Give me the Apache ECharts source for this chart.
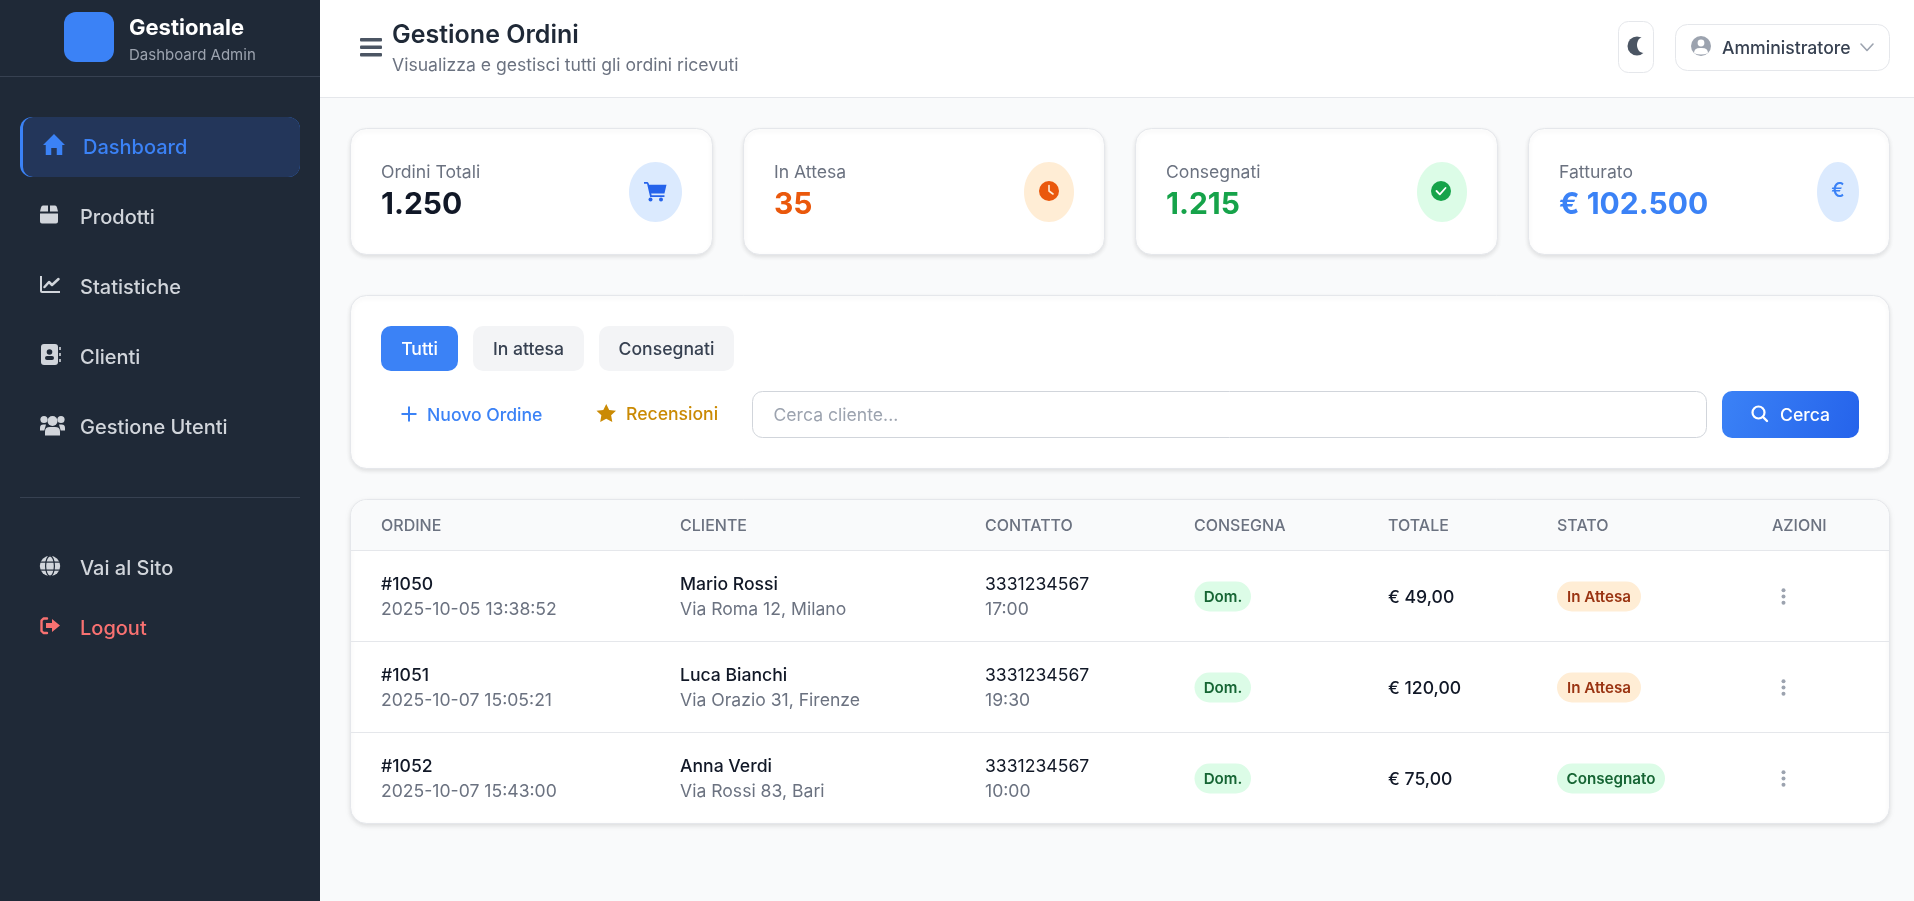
<!DOCTYPE html>
<html lang="it">
<head>
<meta charset="utf-8">
<title>Gestione Ordini</title>
<script src="https://cdn.jsdelivr.net/npm/echarts@6/dist/echarts.min.js"></script>
<style>
  html, body { margin: 0; padding: 0; background: #f9fafb; }
  #main { width: 1914px; height: 901px; }
</style>
</head>
<body>
<div id="main"></div>
<script>
// dati
const brandTitle = 'Gestionale'
const brandSubtitle = 'Dashboard Admin'
const navLabels = ['Dashboard', 'Prodotti', 'Statistiche', 'Clienti', 'Gestione Utenti']
const navFooterLabels = ['Vai al Sito', 'Logout']
const pageTitle = 'Gestione Ordini'
const pageSubtitle = 'Visualizza e gestisci tutti gli ordini ricevuti'
const userName = 'Amministratore'
const statLabels = ['Ordini Totali', 'In Attesa', 'Consegnati', 'Fatturato']
const statValues = ['1.250', '35', '1.215', '€ 102.500']
const filterTabs = ['Tutti', 'In attesa', 'Consegnati']
const columnLabels = ['ORDINE', 'CLIENTE', 'CONTATTO', 'CONSEGNA', 'TOTALE', 'STATO', 'AZIONI']
const orderIds = ['#1050', '#1051', '#1052']
const orderDates = ['2025-10-05 13:38:52', '2025-10-07 15:05:21', '2025-10-07 15:43:00']
const customerNames = ['Mario Rossi', 'Luca Bianchi', 'Anna Verdi']
const customerAddresses = ['Via Roma 12, Milano', 'Via Orazio 31, Firenze', 'Via Rossi 83, Bari']
const contactPhones = ['3331234567', '3331234567', '3331234567']
const contactTimes = ['17:00', '19:30', '10:00']
const deliveryTypes = ['Dom.', 'Dom.', 'Dom.']
const orderTotals = ['€ 49,00', '€ 120,00', '€ 75,00']
const orderStates = ['In Attesa', 'In Attesa', 'Consegnato']

// layout
const FONT = 'Inter, "Noto Sans", sans-serif'
const SIDEBAR = '#1f2937', LIGHT = '#d1d5db', BLUE = '#3b82f6', LINE = '#e5e7eb', GREY = '#6b7280'
const TEXT_M = 17.6
const els = []
let iconCount = 0

function rect(x, y, w, h, r, fill, extra) {
  els.push({ type: 'rect', silent: true, shape: { x, y, width: w, height: h, r }, style: Object.assign({ fill }, extra) })
}
function circle(cx, cy, r, fill) {
  els.push({ type: 'circle', silent: true, shape: { cx, cy, r }, style: { fill } })
}
function ellipse(cx, cy, rx, ry, fill, extra) {
  els.push({ type: 'ellipse', silent: true, shape: { cx, cy, rx, ry }, style: Object.assign({ fill }, extra) })
}
function line(points, stroke, lineWidth) {
  els.push({ type: 'polyline', silent: true, shape: { points }, style: { fill: null, stroke, lineWidth, lineCap: 'round', lineJoin: 'round' } })
}
// il componente graphic non ha il tipo path: registro ogni icona come forma
function icon(d, x, y, w, h, fill) {
  const name = 'icon' + (iconCount++)
  const Clz = echarts.graphic.extendPath(d, {})
  echarts.graphic.registerShape(name, Clz)
  const box = new Clz().getBoundingRect()
  const sx = w / box.width, sy = h / box.height
  els.push({ type: name, silent: true, x: x - box.x * sx, y: y - box.y * sy, scaleX: sx, scaleY: sy, style: { fill } })
}
function txt(text, x, y, size, weight, fill, align) {
  els.push({
    type: 'text', silent: true,
    style: { text, x, y, fontFamily: FONT, fontSize: size, fontWeight: weight, fill, align: align || 'left', verticalAlign: 'middle' }
  })
}
function card(x, y, w, h) {
  rect(x - 0.5, y - 0.5, w + 1, h + 1, 16, '#ffffff', {
    stroke: LINE, lineWidth: 1, shadowBlur: 4, shadowOffsetY: 2, shadowColor: 'rgba(0,0,0,0.10)'
  })
}

// sidebar
function drawSidebar() {
  rect(0, 0, 320, 901, 0, SIDEBAR)
  rect(64, 12, 50, 50, 12, BLUE)
  txt(brandTitle, 129, 28, 22, 700, '#ffffff')
  txt(brandSubtitle, 129, 55, 15, 400, '#9ca3af')
  rect(0, 76, 320, 1, 0, '#374151')

  rect(20, 117, 280, 60, 12, BLUE)
  rect(23, 117, 277, 60, [10, 12, 12, 10], '#23365a')
  icon('M12 1 L24 12 H21 V22 H15 V15 H9 V22 H3 V12 H0 Z', 43, 134, 22, 21, BLUE)

  const navY = [148, 218, 288, 358, 428]
  navLabels.forEach(function (label, i) {
    txt(label, i === 0 ? 83 : 80, navY[i], 20, 500, i === 0 ? BLUE : LIGHT)
  })

  // prodotti
  icon('M3 0 H8 V6 H0 L1 2 Q1.5 0 3 0 Z M10 0 H15 Q16.5 0 17 2 L18 6 H10 Z M0 8 H18 V16 Q18 18 16 18 H2 Q0 18 0 16 Z', 40, 205.5, 18, 18, LIGHT)
  // statistiche
  icon('M0 0 H2 V16 H20 V18 H2 Q0 18 0 16 Z', 40, 276, 20, 17, LIGHT)
  line([[44.5, 287], [49, 282], [52, 285], [58.5, 279]], LIGHT, 2.5)
  // clienti
  rect(41, 344, 17, 21, 3, LIGHT)
  circle(49.5, 352, 2.8, SIDEBAR)
  rect(45, 356, 9, 4, 2, SIDEBAR)
  rect(59.2, 347, 1.6, 3, 0, LIGHT)
  rect(59.2, 353, 1.6, 3, 0, LIGHT)
  rect(59.2, 359, 1.6, 3, 0, LIGHT)
  // utenti
  circle(52.5, 421, 5, LIGHT)
  circle(44, 419.5, 3.6, LIGHT)
  circle(61, 419.5, 3.6, LIGHT)
  icon('M0 10 V5 Q0 0 5 0 H10 Q15 0 15 5 V10 Z', 45, 427, 15, 8.5, LIGHT)
  icon('M0 7 V4 Q0 0 4 0 H7 L5 7 Z', 40, 424.5, 6, 6, LIGHT)
  icon('M7 7 V4 Q7 0 3 0 H0 L2 7 Z', 59, 424.5, 6, 6, LIGHT)

  rect(20, 497, 280, 1, 0, '#374151')

  // vai al sito
  txt(navFooterLabels[0], 80, 569, 20, 500, LIGHT)
  circle(50, 566, 10.2, LIGHT)
  ellipse(50, 566, 4.4, 10.2, null, { stroke: SIDEBAR, lineWidth: 1.2 })
  rect(40, 561.5, 20, 1.2, 0, SIDEBAR)
  rect(40, 569.5, 20, 1.2, 0, SIDEBAR)

  // logout
  txt(navFooterLabels[1], 80, 629, 20, 500, '#f87171')
  line([[47, 618.5], [43.5, 618.5], [41.5, 620.5], [41.5, 631], [43.5, 633], [47, 633]], '#f87171', 2.4)
  icon('M0 4 H6 V0 L14 6.5 L6 13 V9 H0 Z', 46, 619, 14, 13, '#f87171')
}

// intestazione
function drawHeader() {
  rect(320, 0, 1594, 97, 0, '#ffffff')
  rect(320, 97, 1594, 1, 0, LINE)
  rect(360, 38, 22, 3.5, 1, '#4b5563')
  rect(360, 45.5, 22, 3.5, 1, '#4b5563')
  rect(360, 53, 22, 3.5, 1, '#4b5563')
  txt(pageTitle, 392, 35, 25, 600, '#1f2937')
  txt(pageSubtitle, 392, 66, TEXT_M, 400, GREY)

  // tema
  rect(1618.5, 21.5, 35, 51, 10, '#ffffff', { stroke: LINE, lineWidth: 1 })
  circle(1637, 46, 9.5, '#4b5563')
  ellipse(1643.5, 45, 6.5, 8, '#ffffff')

  // utente
  rect(1675.5, 24.5, 214, 46, 12, '#ffffff', { stroke: LINE, lineWidth: 1 })
  circle(1701, 46, 10, '#9ca3af')
  circle(1701, 43, 3.4, '#ffffff')
  icon('M0 6 Q0 0 6 0 H8 Q14 0 14 6 Q7 9 0 6 Z', 1694, 48, 14, 6.5, '#ffffff')
  txt(userName, 1722, 48.5, TEXT_M, 500, '#374151')
  line([[1861, 44], [1867, 50.5], [1873, 44]], '#9ca3af', 1.6)
}

// card statistiche
function drawStats() {
  const cardX = [351, 744, 1136, 1529]
  const cardW = [361, 360, 361, 360]
  const colors = ['#111827', '#ea580c', '#16a34a', BLUE]
  const pillX = [629, 1024, 1417, 1817]
  const pillW = [53, 50, 50, 42]
  const pillFill = ['#dbeafe', '#ffedd5', '#dcfce7', '#dbeafe']
  statLabels.forEach(function (label, i) {
    card(cardX[i], 129, cardW[i], 125)
    txt(label, cardX[i] + 30, 173, TEXT_M, 400, GREY)
    txt(statValues[i], cardX[i] + 30, 205, 30, 700, colors[i])
    ellipse(pillX[i] + pillW[i] / 2, 192, pillW[i] / 2, 30, pillFill[i])
  })
  // carrello
  icon('M0 0 H3 Q4 0 4.5 1.5 L5 3 H22 L20 13 H7 L7.5 15 H20 V17 H6 L3 2 H0 Z', 644, 182, 22.5, 15, '#2563eb')
  circle(650.5, 199.5, 2, '#2563eb')
  circle(661, 199.5, 2, '#2563eb')
  // orologio
  circle(1049, 191, 10, '#ea580c')
  line([[1049, 185.5], [1049, 191], [1053, 194]], '#ffedd5', 1.6)
  // spunta
  circle(1441, 191, 10, '#16a34a')
  line([[1436.5, 191], [1439.8, 194.3], [1445.5, 188]], '#ffffff', 1.8)
  // euro
  txt('€', 1838, 191, 20, 500, BLUE, 'center')
}

// filtri e ricerca
function drawFilters() {
  card(351, 296, 1538, 172)
  const tabX = [381, 473, 599]
  const tabW = [77, 111, 135]
  filterTabs.forEach(function (label, i) {
    rect(tabX[i], 326, tabW[i], 45, 10, i === 0 ? BLUE : '#f3f4f6')
    txt(label, tabX[i] + tabW[i] / 2, 349.5, TEXT_M, 500, i === 0 ? '#ffffff' : '#374151', 'center')
  })
  // nuovo ordine
  rect(401.5, 413, 15, 2, 0, BLUE)
  rect(408, 406.5, 2, 15, 0, BLUE)
  txt('Nuovo Ordine', 427, 416, TEXT_M, 500, BLUE)
  // recensioni
  icon('M50 0 L65 33 L100 38 L75 62 L81 100 L50 82 L19 100 L25 62 L0 38 L35 33 Z', 596.5, 404, 19.5, 18, '#ca8a04')
  txt('Recensioni', 626, 415, TEXT_M, 500, '#ca8a04')
  // ricerca
  rect(752.5, 391.5, 954, 46, 10, '#ffffff', { stroke: LIGHT, lineWidth: 1 })
  txt('Cerca cliente...', 773.5, 416, TEXT_M, 400, '#9ca3af')
  rect(1722, 391, 137, 47, 10, {
    type: 'linear', x: 0, y: 0, x2: 1, y2: 1,
    colorStops: [{ offset: 0, color: BLUE }, { offset: 1, color: '#2563eb' }]
  })
  els.push({ type: 'circle', silent: true, shape: { cx: 1758.5, cy: 412.5, r: 6 }, style: { fill: null, stroke: '#ffffff', lineWidth: 2.2 } })
  line([[1763, 417], [1767, 421]], '#ffffff', 2.4)
  txt('Cerca', 1780, 416, TEXT_M, 500, '#ffffff')
}

// tabella ordini
function drawTable() {
  const colX = [381, 680, 985, 1194, 1388, 1557, 1772]
  const rowY = [596.5, 687.5, 778.5]
  card(351, 500, 1538, 323)
  rect(351, 500, 1538, 50, [16, 16, 0, 0], '#f9fafb')
  rect(351, 550, 1538, 1, 0, LINE)
  rect(351, 641, 1538, 1, 0, LINE)
  rect(351, 732, 1538, 1, 0, LINE)
  columnLabels.forEach(function (label, i) {
    txt(label, colX[i], 526, 16, 500, GREY)
  })
  orderIds.forEach(function (id, i) {
    const y = rowY[i]
    txt(id, colX[0], y - 11.5, TEXT_M, 500, '#111827')
    txt(orderDates[i], colX[0], y + 13, TEXT_M, 400, GREY)
    txt(customerNames[i], colX[1], y - 11.5, TEXT_M, 500, '#111827')
    txt(customerAddresses[i], colX[1], y + 13, TEXT_M, 400, GREY)
    txt(contactPhones[i], colX[2], y - 11.5, TEXT_M, 400, '#111827')
    txt(contactTimes[i], colX[2], y + 13, TEXT_M, 400, GREY)

    rect(colX[3] + 0.5, y - 15, 56.5, 30, 15, '#dcfce7')
    txt(deliveryTypes[i], colX[3] + 29, y + 0.5, 15.2, 600, '#166534', 'center')

    txt(orderTotals[i], colX[4], y + 1.5, TEXT_M, 500, '#111827')

    const done = orderStates[i] === 'Consegnato'
    const pw = done ? 108 : 84
    rect(colX[5], y - 15, pw, 30, 15, done ? '#dcfce7' : '#ffedd5')
    txt(orderStates[i], colX[5] + pw / 2, y + 0.5, 15.2, 600, done ? '#166534' : '#9a3412', 'center')

    circle(1783.5, y - 6.2, 2, '#9ca3af')
    circle(1783.5, y, 2, '#9ca3af')
    circle(1783.5, y + 6.2, 2, '#9ca3af')
  })
}

drawSidebar()
drawHeader()
drawStats()
drawFilters()
drawTable()

const myChart = echarts.init(document.getElementById('main'))
myChart.setOption({
  animation: false,
  backgroundColor: '#f9fafb',
  graphic: { elements: els }
})
</script>
</body>
</html>
